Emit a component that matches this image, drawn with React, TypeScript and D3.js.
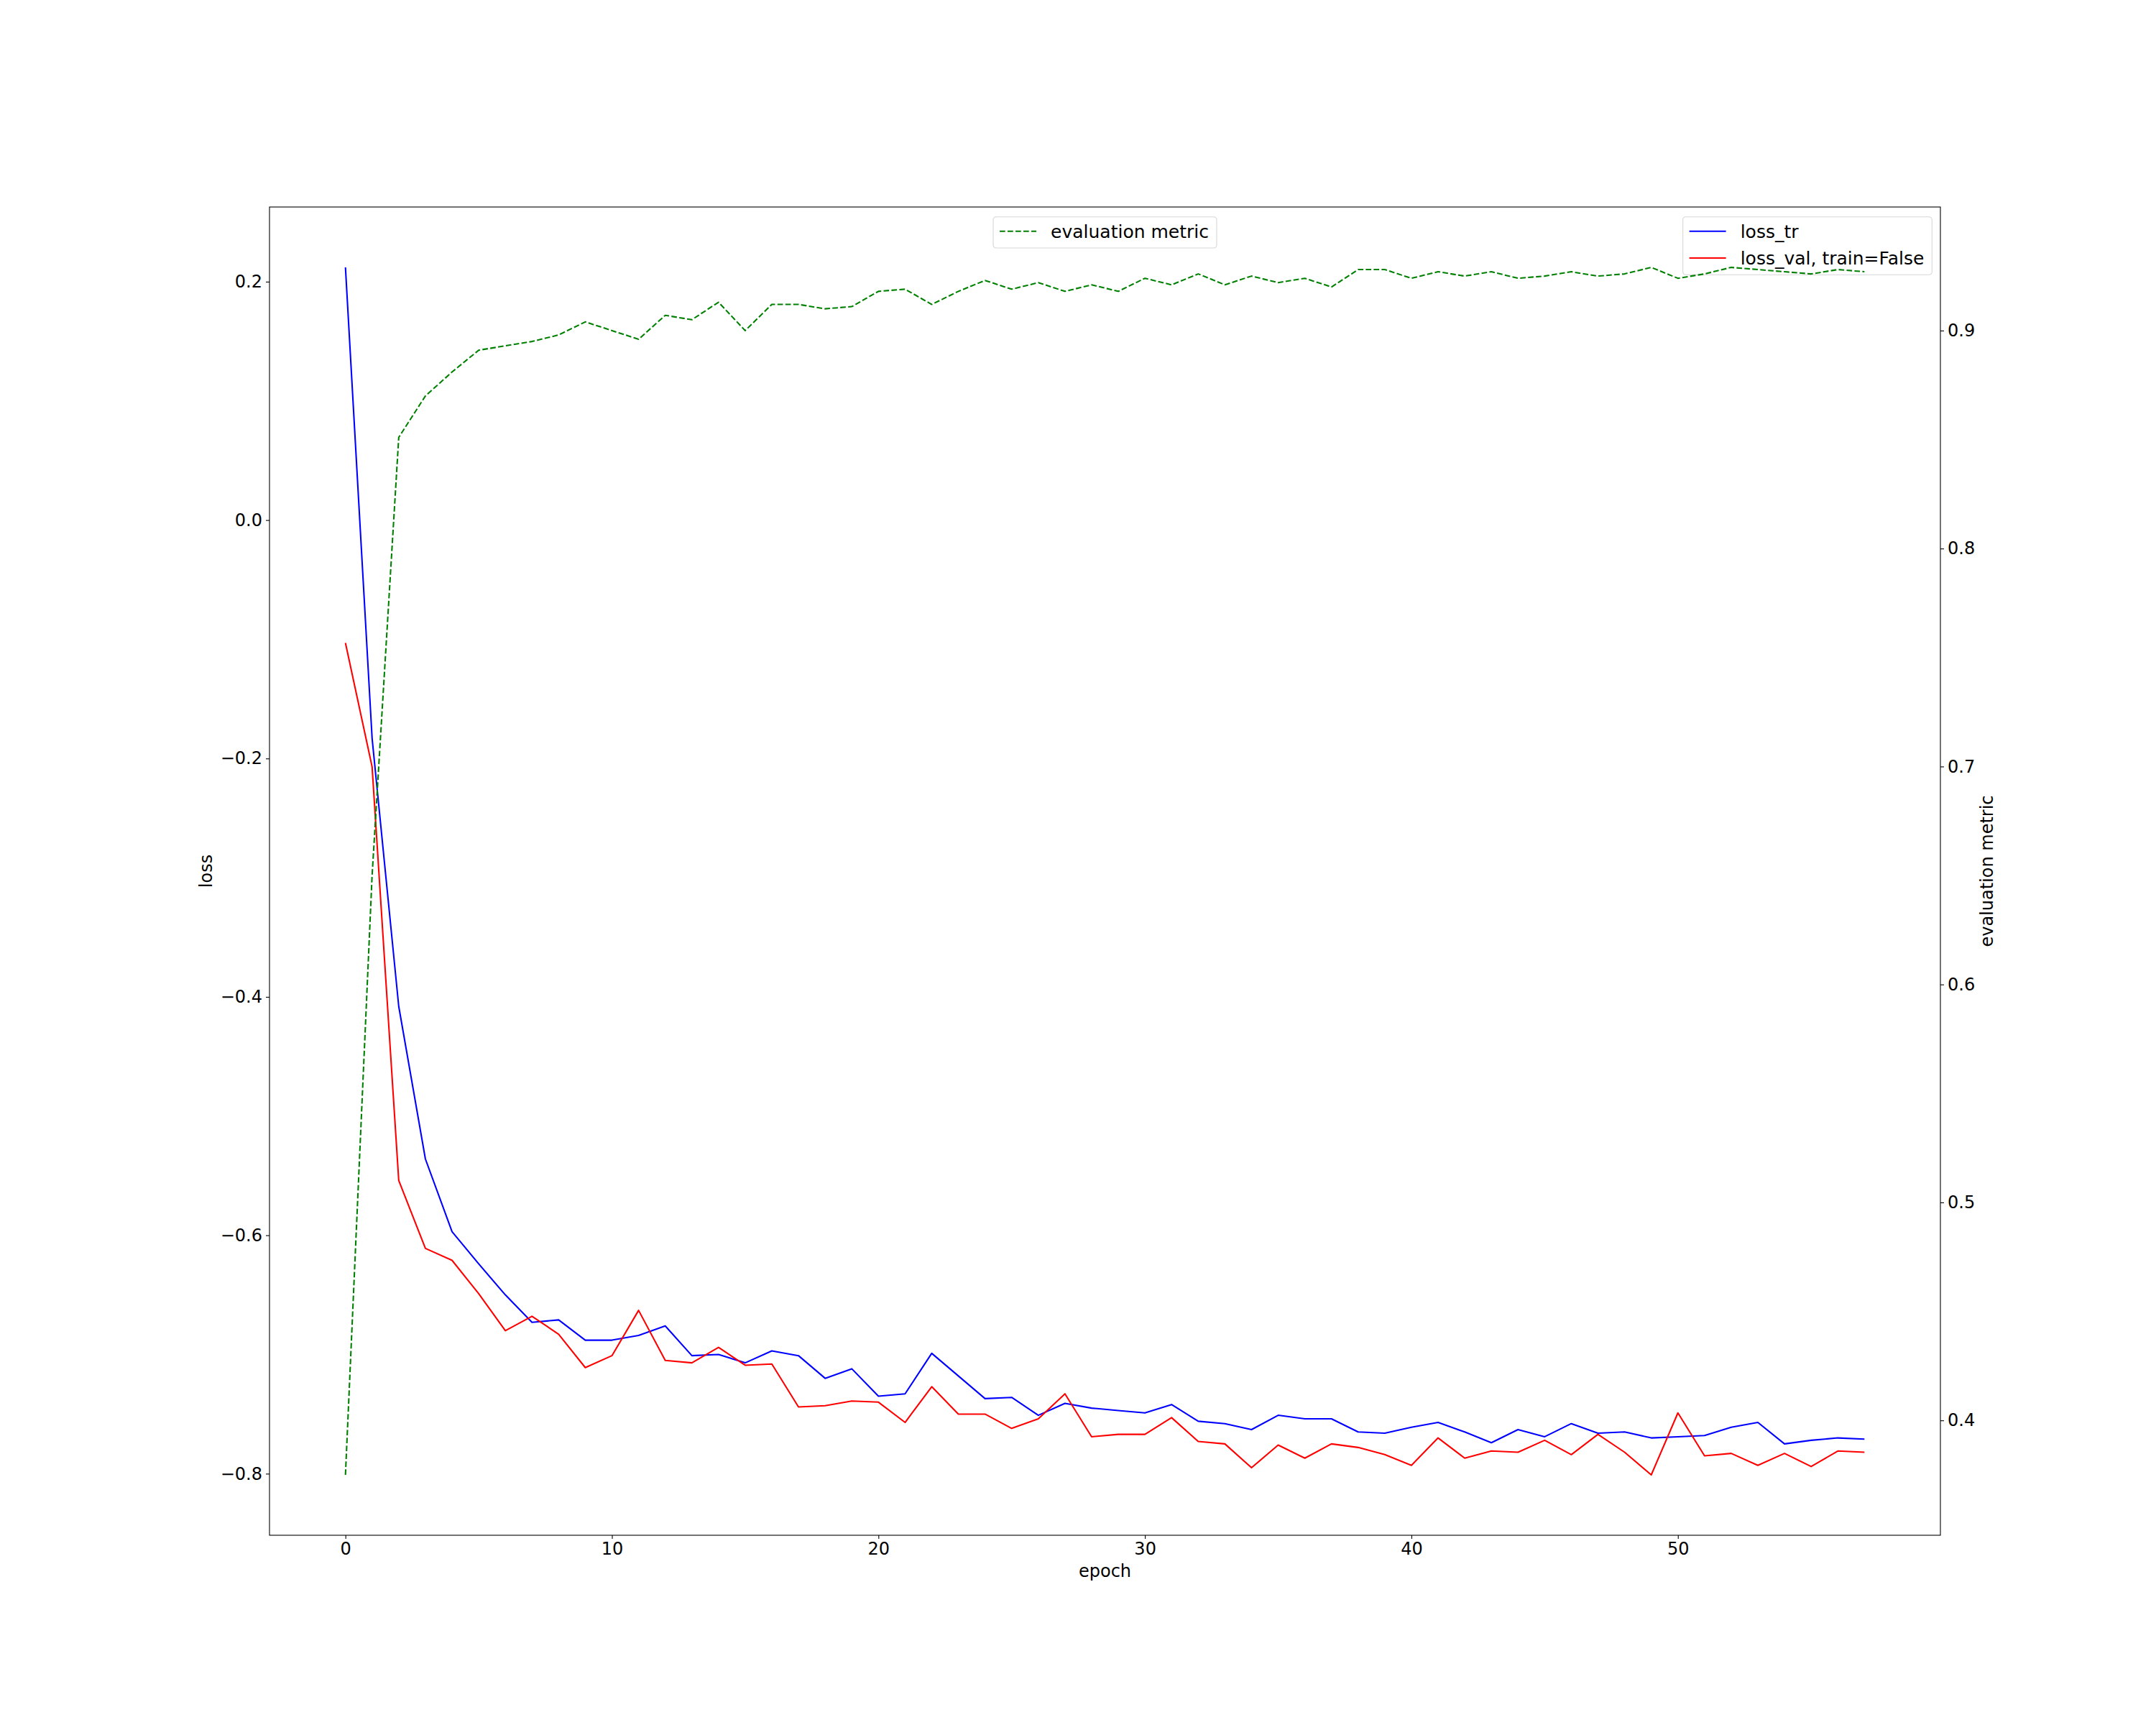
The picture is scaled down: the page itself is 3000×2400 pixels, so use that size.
import React, { useEffect, useRef } from "react";
import * as d3 from "d3";

// values, one per epoch
const lossTr = [
  0.212, -0.183, -0.408, -0.536, -0.597, -0.624, -0.65, -0.673, -0.671, -0.688,
  -0.688, -0.684, -0.676, -0.701, -0.7, -0.707, -0.697, -0.701, -0.72, -0.712,
  -0.735, -0.733, -0.699, -0.718, -0.737, -0.736, -0.751, -0.741, -0.745, -0.747,
  -0.749, -0.742, -0.756, -0.758, -0.763, -0.751, -0.754, -0.754, -0.765, -0.766,
  -0.761, -0.757, -0.765, -0.774, -0.763, -0.769, -0.758, -0.766, -0.765, -0.77,
  -0.769, -0.768, -0.761, -0.757, -0.775, -0.772, -0.77, -0.771,
];

const lossVal = [
  -0.103, -0.207, -0.554, -0.611, -0.621, -0.649, -0.68, -0.668, -0.683, -0.711,
  -0.701, -0.663, -0.705, -0.707, -0.694, -0.709, -0.708, -0.744, -0.743, -0.739,
  -0.74, -0.757, -0.727, -0.75, -0.75, -0.762, -0.754, -0.733, -0.769, -0.767,
  -0.767, -0.753, -0.773, -0.775, -0.795, -0.776, -0.787, -0.775, -0.778, -0.784,
  -0.793, -0.77, -0.787, -0.781, -0.782, -0.772, -0.784, -0.767, -0.782, -0.801,
  -0.749, -0.785, -0.783, -0.793, -0.783, -0.794, -0.781, -0.782,
];

const evalMetric = [
  0.375, 0.65, 0.851, 0.87, 0.881, 0.891, 0.893, 0.895, 0.898, 0.904,
  0.9, 0.896, 0.907, 0.905, 0.913, 0.9, 0.912, 0.912, 0.91, 0.911,
  0.918, 0.919, 0.912, 0.918, 0.923, 0.919, 0.922, 0.918, 0.921, 0.918,
  0.924, 0.921, 0.926, 0.921, 0.925, 0.922, 0.924, 0.92, 0.928, 0.928,
  0.924, 0.927, 0.925, 0.927, 0.924, 0.925, 0.927, 0.925, 0.926, 0.929,
  0.924, 0.926, 0.929, 0.928, 0.927, 0.926, 0.928, 0.927,
];

const epochs = lossTr.map((_, i) => i);

const xTicks = [0, 10, 20, 30, 40, 50];
const lossTicks = [-0.8, -0.6, -0.4, -0.2, 0.0, 0.2];
const metricTicks = [0.4, 0.5, 0.6, 0.7, 0.8, 0.9];

const WIDTH = 3000;
const HEIGHT = 2400;
const FONT = "DejaVu Sans";
const FONT_SIZE = 24;
const LEGEND_FONT_SIZE = 25;

// matplotlib style autoscale: 5% margin on both ends
function padded(values: number[]): [number, number] {
  const lo = d3.min(values)!;
  const hi = d3.max(values)!;
  const m = (hi - lo) * 0.05;
  return [lo - m, hi + m];
}

type Entry = { label: string; color: string; dash: string | null };

export default function App() {
  const svgRef = useRef<SVGSVGElement>(null);

  useEffect(() => {
    if (!svgRef.current) return;
    d3.select(svgRef.current).selectAll("*").remove();

    const margin = { top: 288, right: 300, bottom: 264, left: 375 };
    const width = WIDTH - margin.left - margin.right;
    const height = HEIGHT - margin.top - margin.bottom;

    const svg = d3
      .select(svgRef.current)
      .attr("width", WIDTH)
      .attr("height", HEIGHT);

    svg.append("rect").attr("width", WIDTH).attr("height", HEIGHT).attr("fill", "#fff");

    const g = svg
      .append("g")
      .attr("transform", `translate(${margin.left},${margin.top})`);

    const xScale = d3.scaleLinear().domain(padded(epochs)).range([0, width]);
    const yLoss = d3
      .scaleLinear()
      .domain(padded([...lossTr, ...lossVal]))
      .range([height, 0]);
    const yMetric = d3.scaleLinear().domain(padded(evalMetric)).range([height, 0]);

    const styleAxis = (axis: d3.Selection<SVGGElement, unknown, null, undefined>) => {
      axis.attr("font-family", FONT).attr("font-size", FONT_SIZE);
      axis.select(".domain").remove();
      axis.selectAll("line").attr("stroke", "#000").attr("stroke-width", 1.1);
      axis.selectAll("text").attr("fill", "#000");
    };

    const xAxis = g
      .append("g")
      .attr("transform", `translate(0,${height})`)
      .call(
        d3
          .axisBottom(xScale)
          .tickValues(xTicks)
          .tickSize(5)
          .tickPadding(5)
          .tickFormat(d3.format("d"))
      );
    styleAxis(xAxis);

    const yAxis = g.append("g").call(
      d3
        .axisLeft(yLoss)
        .tickValues(lossTicks)
        .tickSize(5)
        .tickPadding(5)
        .tickFormat(d3.format(".1f"))
    );
    styleAxis(yAxis);

    const y2Axis = g
      .append("g")
      .attr("transform", `translate(${width},0)`)
      .call(
        d3
          .axisRight(yMetric)
          .tickValues(metricTicks)
          .tickSize(5)
          .tickPadding(5)
          .tickFormat(d3.format(".1f"))
      );
    styleAxis(y2Axis);

    // axis labels
    g.append("text")
      .attr("x", width / 2)
      .attr("y", 2194 - margin.top)
      .attr("text-anchor", "middle")
      .attr("font-family", FONT)
      .attr("font-size", FONT_SIZE)
      .text("epoch");

    g.append("text")
      .attr("transform", `translate(${295 - margin.left},${height / 2}) rotate(-90)`)
      .attr("text-anchor", "middle")
      .attr("font-family", FONT)
      .attr("font-size", FONT_SIZE)
      .text("loss");

    g.append("text")
      .attr("transform", `translate(${width + 2773 - 2700},${height / 2}) rotate(-90)`)
      .attr("text-anchor", "middle")
      .attr("font-family", FONT)
      .attr("font-size", FONT_SIZE)
      .text("evaluation metric");

    const drawSeries = (
      values: number[],
      y: d3.ScaleLinear<number, number>,
      color: string,
      dash: string | null
    ) => {
      const line = d3
        .line<number>()
        .x((_, i) => xScale(epochs[i]))
        .y((d) => y(d));
      g.append("path")
        .datum(values)
        .attr("fill", "none")
        .attr("stroke", color)
        .attr("stroke-width", 2.08)
        .attr("stroke-dasharray", dash)
        .attr("stroke-linejoin", "round")
        .attr("d", line);
    };

    const drawLegend = (entries: Entry[], anchor: "right" | "center") => {
      const legend = g.append("g");
      const box = legend
        .append("rect")
        .attr("fill", "#fff")
        .attr("fill-opacity", 0.8)
        .attr("stroke", "#cccccc")
        .attr("stroke-opacity", 0.8)
        .attr("stroke-width", 1.1)
        .attr("rx", 4);

      const widths: number[] = [];
      entries.forEach((e, i) => {
        const cy = 20 + i * 37.3;
        legend
          .append("line")
          .attr("x1", 9)
          .attr("x2", 60)
          .attr("y1", cy)
          .attr("y2", cy)
          .attr("stroke", e.color)
          .attr("stroke-width", 2.08)
          .attr("stroke-dasharray", e.dash);
        const t = legend
          .append("text")
          .attr("x", 80)
          .attr("y", cy + 9)
          .attr("font-family", FONT)
          .attr("font-size", LEGEND_FONT_SIZE)
          .text(e.label);
        widths.push((t.node() as SVGTextElement).getComputedTextLength());
      });

      const bw = 80 + d3.max(widths)! + 11;
      const bh = 43.3 + (entries.length - 1) * 37.3;
      box.attr("width", bw).attr("height", bh);
      const lx = anchor === "right" ? width - 11.7 - bw : width / 2 - bw / 2;
      legend.attr("transform", `translate(${lx},13.7)`);
    };

    // first axes: losses
    drawSeries(lossTr, yLoss, "#0000ff", null);
    drawSeries(lossVal, yLoss, "#ff0000", null);
    drawLegend(
      [
        { label: "loss_tr", color: "#0000ff", dash: null },
        { label: "loss_val, train=False", color: "#ff0000", dash: null },
      ],
      "right"
    );

    // twin axes: evaluation metric
    drawSeries(evalMetric, yMetric, "#008000", "7.7,3.3");
    drawLegend([{ label: "evaluation metric", color: "#008000", dash: "7.7,3.3" }], "center");

    // frame
    g.append("rect")
      .attr("width", width)
      .attr("height", height)
      .attr("fill", "none")
      .attr("stroke", "#000")
      .attr("stroke-width", 1.1);
  }, []);

  return (
    <svg
      ref={svgRef}
      style={{ position: "absolute", left: 0, top: 0, display: "block" }}
    ></svg>
  );
}
